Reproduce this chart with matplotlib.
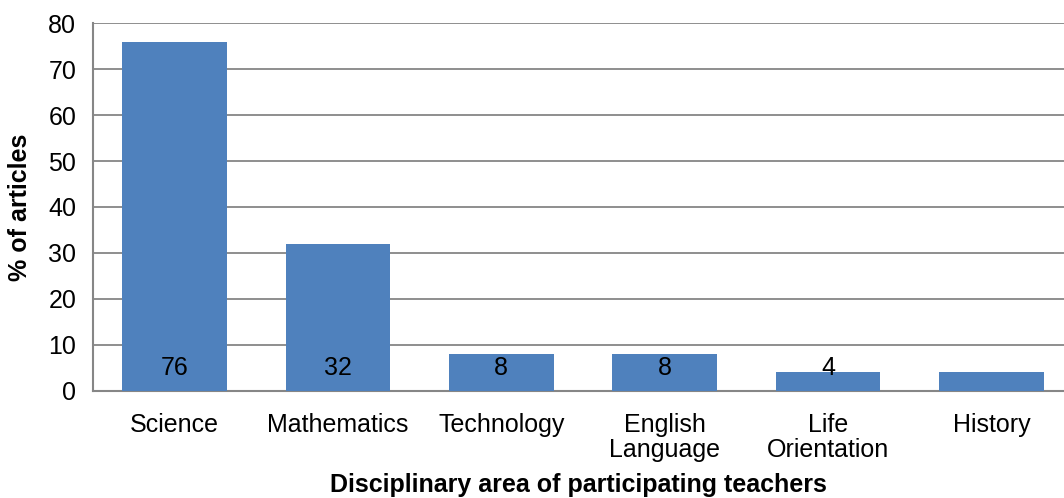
import numpy as np
import matplotlib.pyplot as plt

plt.rcParams['font.family'] = ['Liberation Sans', 'DejaVu Sans']

# data
categories = ["Science", "Mathematics", "Technology", "English\nLanguage",
              "Life\nOrientation", "History"]
values = [76, 32, 8, 8, 4, 4]
bar_labels = ["76", "32", "8", "8", "4", ""]

bar_color = "#4F81BD"
grid_color = "#868686"
fs = 18

fig = plt.figure(figsize=(10.64, 4.98), dpi=100)
ax = fig.add_axes([0.0874, 0.2155, 1 - 0.0874, 0.7377])

x = np.arange(len(categories))
ax.bar(x, values, width=0.64, color=bar_color, zorder=3)

for xi, lab in zip(x, bar_labels):
    ax.text(xi, 5.0, lab, ha="center", va="center", fontsize=fs, color="black", zorder=4)

ax.set_ylim(0, 80)
ax.set_xlim(-0.5, 5.445)
ax.set_yticks(range(0, 81, 10))
ax.set_xticks(x)
ax.set_xticklabels(categories, fontsize=fs, linespacing=1.05)
ax.tick_params(axis="y", labelsize=fs, length=0, pad=12)
ax.tick_params(axis="x", length=0, pad=16)

ax.grid(axis="y", color=grid_color, linewidth=1.3, zorder=0)
for side in ["top", "right"]:
    ax.spines[side].set_visible(False)
for side in ["left", "bottom"]:
    ax.spines[side].set_color(grid_color)
    ax.spines[side].set_linewidth(1.5)

ax.set_ylabel("% of articles", fontsize=fs, fontweight="bold", labelpad=12)
ax.set_xlabel("Disciplinary area of participating teachers", fontsize=fs,
              fontweight="bold", labelpad=8)

fig.savefig("out.png", dpi=100)
